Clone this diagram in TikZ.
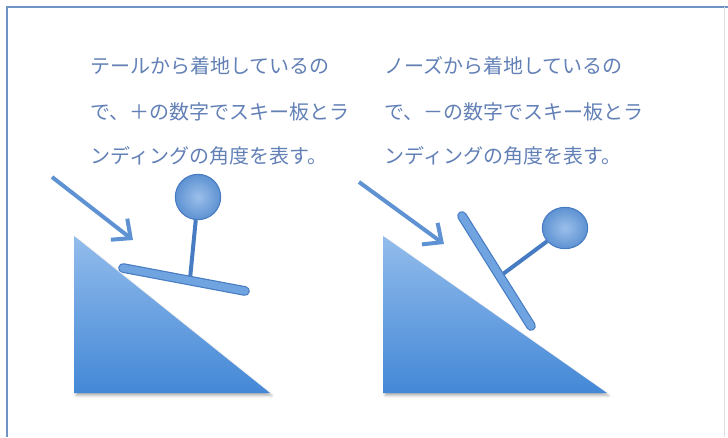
\documentclass[tikz,border=0pt]{standalone}
\usepackage{fontspec}
\newfontfamily\jpfont{Noto Sans CJK JP}
\usetikzlibrary{arrows.meta,shadows.blur,shapes.geometric}

\definecolor{frameblue}{RGB}{111,147,195}
\definecolor{textblue}{RGB}{98,128,182}
\definecolor{slopetop}{RGB}{146,188,236}
\definecolor{slopebot}{RGB}{68,136,214}
\definecolor{partblue}{RGB}{94,146,210}
\definecolor{partdark}{RGB}{72,124,194}
\definecolor{partlight}{RGB}{112,164,225}

\tikzset{every picture/.style={line width=0.75pt}}
\tikzset{
  caption/.style={anchor=west,inner sep=0pt,text=textblue,font=\jpfont\fontsize{15}{15}\selectfont},
  slope/.style={top color=slopetop,bottom color=slopebot,draw=none,
    blur shadow={shadow xshift=1.5pt,shadow yshift=-2pt,shadow blur steps=6,shadow opacity=30}},
  flow/.style={draw=partblue,line width=3pt,-{Straight Barb[length=11pt,width=20pt,line width=3pt]}},
  board/.style={draw=partdark,line width=0.9pt,double=partlight,double distance=5.5pt,line cap=round},
  pole/.style={draw=partdark,line width=3pt},
  head/.style={draw=partdark,line width=0.8pt,inner color=partlight!70!white,outer color=partblue}
}

\begin{document}
\begin{tikzpicture}[x=0.75pt,y=0.75pt,yscale=-1,xscale=1]
	\useasboundingbox (0,0) rectangle (728,437);

	%Frame
	\draw [frameblue,line width=1.2pt] (7,437) -- (7,7) -- (728,7) ;
	\draw [black!12,line width=0.6pt] (724,7) -- (724,437) ;

	% Text Node
	\node [caption] (tail1) at (90,66) {テールから着地しているの};
	\node [caption] (tail2) at (90,112) {で、＋の数字でスキー板とラ};
	\node [caption] (tail3) at (90,156) {ンディングの角度を表す。};
	% Text Node
	\node [caption] (nose1) at (384,66) {ノーズから着地しているの};
	\node [caption] (nose2) at (384,112) {で、－の数字でスキー板とラ};
	\node [caption] (nose3) at (384,156) {ンディングの角度を表す。};

	%Shape: Right Triangle (tail landing)
	\path [slope] (74,236) -- (74,393) -- (270,393) -- cycle ;
	%Straight Lines (approach)
	\coordinate (tailfrom) at (52,177) ;
	\coordinate (tailto) at (133,240) ;
	\draw [flow] (tailfrom) -- (tailto) ;
	%Ski and skier
	\coordinate (tailski1) at (123,268) ;
	\coordinate (tailski2) at (245,291) ;
	\coordinate (tailfoot) at (190,279) ;
	\node [circle,minimum size=34,inner sep=0pt,head] (tailhead) at (198,197) {};
	\draw [pole] (tailfoot) -- (tailhead) ;
	\draw [board] (tailski1) -- (tailski2) ;

	%Shape: Right Triangle (nose landing)
	\path [slope] (383,236) -- (383,393) -- (607,393) -- cycle ;
	%Straight Lines (approach)
	\coordinate (nosefrom) at (359,182) ;
	\coordinate (noseto) at (444,244) ;
	\draw [flow] (nosefrom) -- (noseto) ;
	%Ski and skier
	\coordinate (noseski1) at (462,216) ;
	\coordinate (noseski2) at (531,326) ;
	\coordinate (nosefoot) at (503,274) ;
	\node [ellipse,minimum width=34,minimum height=31,inner sep=0pt,head] (nosehead) at (565,228) {};
	\draw [pole] (nosefoot) -- (nosehead) ;
	\draw [board] (noseski1) -- (noseski2) ;

\end{tikzpicture}
\end{document}
